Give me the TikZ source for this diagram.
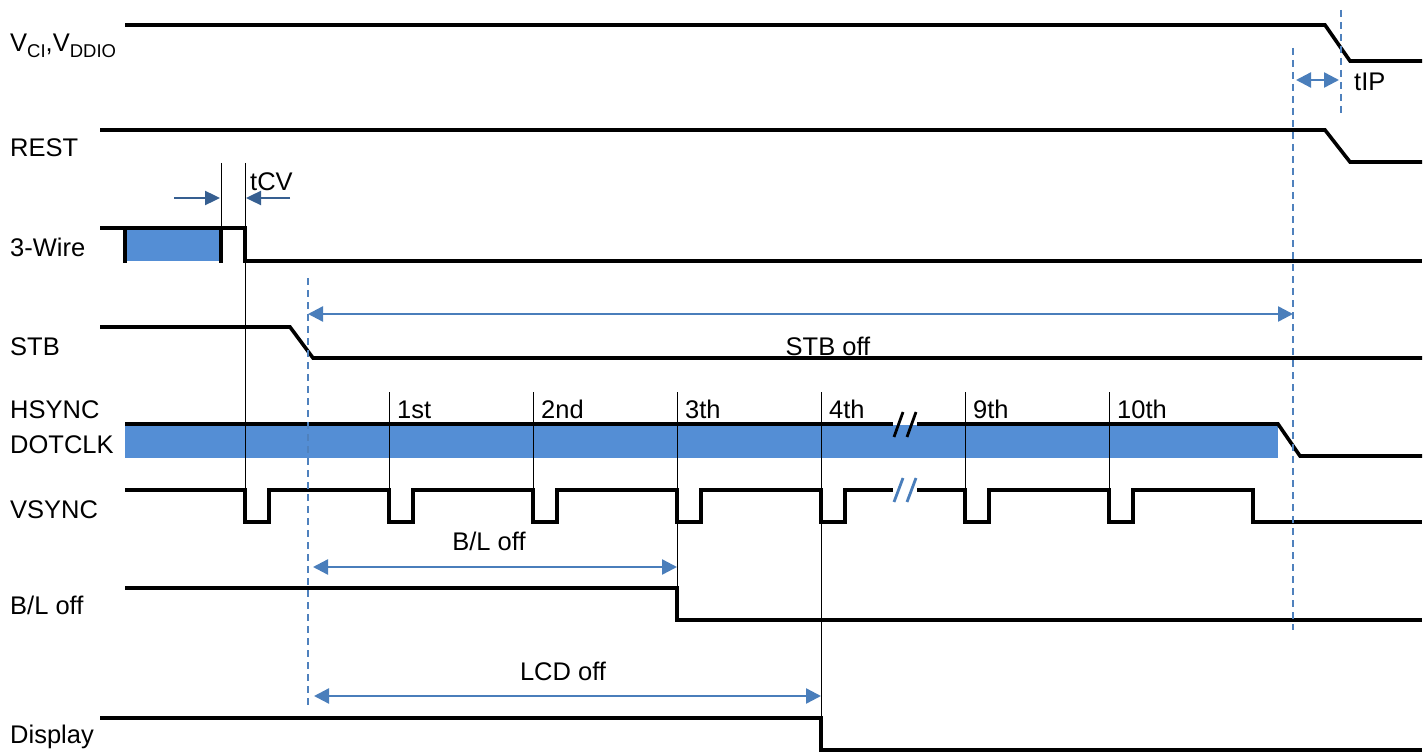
\documentclass[tikz,border=0pt]{standalone}
\usepackage{fontspec}
\setmainfont{Liberation Sans}
\usetikzlibrary{arrows.meta}
\definecolor{bandblue}{RGB}{84,142,213}
\definecolor{arrblue}{RGB}{74,126,187}
\definecolor{darkarr}{RGB}{54,95,145}
\definecolor{dashblue}{RGB}{79,129,189}
\newcommand{\lowsub}[1]{\raisebox{-6pt}{\fontsize{18.5}{20}\selectfont #1}}
\begin{document}
\begin{tikzpicture}[x=1pt,y=-1pt,
  sig/.style={line width=3.6pt, line join=miter},
  thinln/.style={line width=1pt},
  guide/.style={dashblue, line width=2.5pt, dash pattern=on 7pt off 5pt},
  dimarr/.style={arrblue, line width=2.4pt, {Triangle[length=15pt,width=15pt]}-{Triangle[length=15pt,width=15pt]}},
  cvarr/.style={darkarr, line width=2.4pt, -{Triangle[length=15pt,width=14pt]}},
  lbl/.style={anchor=base west, inner sep=0pt, font=\fontsize{25.5}{30}\selectfont},
  mid/.style={anchor=base, inner sep=0pt, font=\fontsize{25.5}{30}\selectfont},
  brk/.style={line width=2.8pt}]
\useasboundingbox (0,0) rectangle (1426,754);

% bands
\fill[bandblue] (125,228) rectangle (221,261);
\fill[bandblue] (125,425) rectangle (1278,458);

% labels
\node[lbl] (lv) at (10,52) {V\lowsub{CI},V\lowsub{DDIO}};
\node[lbl] (lr) at (10,157) {REST};
\node[lbl] (lw) at (10,256) {3-Wire};
\node[lbl] (ls) at (10,355) {STB};
\node[lbl] (lh) at (10,418) {HSYNC};
\node[lbl] (ld) at (10,453) {DOTCLK};
\node[lbl] (lvs) at (10,518) {VSYNC};
\node[lbl] (lb) at (10,614) {B/L off};
\node[lbl] (ldi) at (10,743) {Display};

\node[lbl] (tcv) at (250,191) {tCV};
\node[lbl] (tip) at (1354,91) {tIP};
\node[mid] (stboff) at (828,355) {STB off};
\node[mid] (bloff) at (489,550) {B/L off};
\node[mid] (lcdoff) at (563,680) {LCD off};
\node[lbl] (n1) at (397,418) {1st};
\node[lbl] (n2) at (541,418) {2nd};
\node[lbl] (n3) at (685,418) {3th};
\node[lbl] (n4) at (829,418) {4th};
\node[lbl] (n9) at (973,418) {9th};
\node[lbl] (n10) at (1117,418) {10th};

% signals
\draw[sig] (125,25) -- (1325,25) -- (1350,61) -- (1422,61);
\draw[sig] (100,130) -- (1325,130) -- (1350,162) -- (1422,162);
\draw[sig] (100,228) -- (245,228) -- (245,261) -- (1422,261);
\draw[sig] (125,262.5) -- (125,228);
\draw[sig] (221,262.5) -- (221,228);
\draw[sig] (100,327) -- (290,327) -- (313,358) -- (1422,358);
\draw[sig] (125,424) -- (893,424);
\draw[sig] (917,424) -- (1278,424) -- (1300,456) -- (1422,456);
\draw[brk] (894,437) -- (903,412);
\draw[brk] (907,437) -- (916,412);
\draw[sig] (125,490) -- (245,490) -- (245,522) -- (269,522) -- (269,490)
  -- (389,490) -- (389,522) -- (413,522) -- (413,490)
  -- (533,490) -- (533,522) -- (557,522) -- (557,490)
  -- (677,490) -- (677,522) -- (701,522) -- (701,490)
  -- (821,490) -- (821,522) -- (845,522) -- (845,490) -- (893,490);
\draw[sig] (917,490) -- (965,490) -- (965,522) -- (989,522) -- (989,490)
  -- (1109,490) -- (1109,522) -- (1133,522) -- (1133,490)
  -- (1253,490) -- (1253,522) -- (1422,522);
\draw[brk, arrblue] (894,502) -- (903,478);
\draw[brk, arrblue] (907,502) -- (916,478);
\draw[sig] (125,588) -- (677,588) -- (677,620) -- (1422,620);
\draw[sig] (100,718) -- (821,718) -- (821,750) -- (1422,750);

% thin markers
\draw[thinln] (221,163) -- (221,228);
\draw[thinln] (245,163) -- (245,490);
\foreach \x in {389,533,965,1109} \draw[thinln] (\x,392) -- (\x,490);
\draw[thinln] (677,392) -- (677,588);
\draw[thinln] (821,392) -- (821,718);

% guides
\draw[guide] (308,278) -- (308,705);
\draw[guide] (1293,48) -- (1293,630);
\draw[guide] (1341,10) -- (1341,115);

% dimension arrows
\coordinate (sL) at (308,314); \coordinate (sR) at (1293,314);
\coordinate (bL) at (313,567); \coordinate (bR) at (677,567);
\coordinate (cL) at (314,696); \coordinate (cR) at (821,696);
\coordinate (iL) at (1296,80); \coordinate (iR) at (1339,80);
\draw[dimarr] (sL) -- (sR);
\draw[dimarr] (bL) -- (bR);
\draw[dimarr] (cL) -- (cR);
\draw[dimarr] (iL) -- (iR);
\coordinate (c1) at (174,198); \coordinate (c2) at (220,198);
\coordinate (c3) at (290,198); \coordinate (c4) at (246,198);
\draw[cvarr] (c1) -- (c2);
\draw[cvarr] (c3) -- (c4);
\end{tikzpicture}
\end{document}
